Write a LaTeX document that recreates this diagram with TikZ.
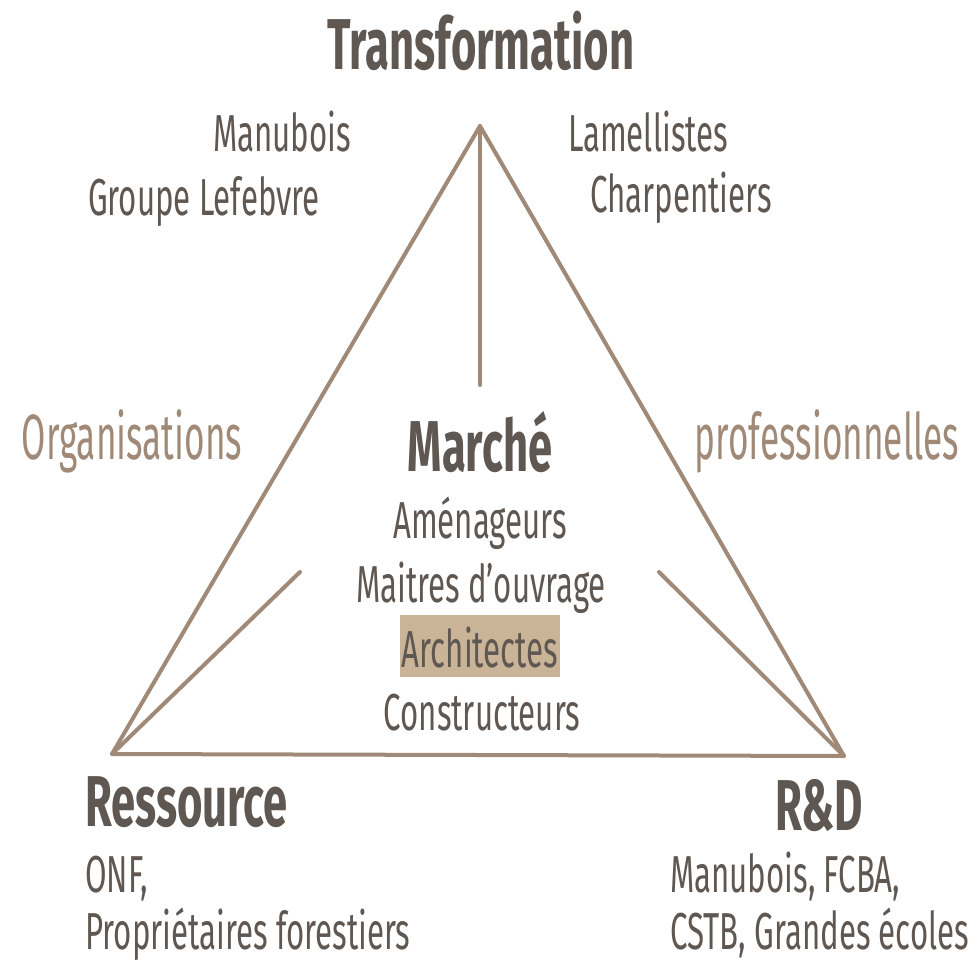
\documentclass[tikz,border=0pt]{standalone}
\usepackage{fontspec}
\setmainfont{Fira Sans}[FakeStretch=0.6, BoldFeatures={FakeStretch=0.605}]
\newfontfamily\sidefont{Fira Sans}[FakeStretch=0.55]
\usepackage{tikz}
\usetikzlibrary{positioning}
\definecolor{inkgray}{HTML}{5F5751}
\definecolor{woodline}{HTML}{A08A77}
\definecolor{woodfill}{HTML}{C9B497}
\tikzset{
  pole/.style={anchor=base, inner sep=0pt, text=inkgray, font=\fontsize{72}{80}\selectfont\bfseries},
  actor/.style={anchor=base, inner sep=0pt, text=inkgray, font=\fontsize{52}{60}\selectfont},
  side/.style={anchor=base, inner sep=0pt, text=woodline, font=\sidefont\fontsize{64}{70}\selectfont},
  edge/.style={draw=woodline, line width=4pt, line cap=round, line join=round}
}
\begin{document}
\begin{tikzpicture}[x=1pt, y=-1pt]
\useasboundingbox (0,0) rectangle (978,963);

% triangle corners and inner ends
\coordinate (top) at (480,126);
\coordinate (left) at (112,754);
\coordinate (right) at (844,756);
\coordinate (topend) at (480,385);
\coordinate (leftend) at (300,572);
\coordinate (rightend) at (659,572);

\draw[edge] (top) -- (left) -- (right) -- cycle;
\draw[edge] (top) -- (topend);
\draw[edge] (left) -- (leftend);
\draw[edge] (right) -- (rightend);

% poles
\node[pole] (transfo) at (481,70) {Transformation};
\node[pole] (marche) at (480,471) {Marché};
\node[pole, anchor=base west] (ressource) at (85,826) {Ressource};
\node[pole] (rd) at (819,830) {R\&D};

% transformation
\node[actor] (manubois) at (282,152) {Manubois};
\node[actor] (lefebvre) at (204,215) {Groupe Lefebvre};
\node[actor] (lamell) at (648,152) {Lamellistes};
\node[actor] (charp) at (681,213) {Charpentiers};

% sides
\node[side] (orga) at (132,459) {Organisations};
\node[side] (pro) at (827,459) {professionnelles};

% market
\node[actor] (amen) at (480,538) {Aménageurs};
\node[actor] (moa) at (481,602) {Maitres d’ouvrage};
\node[actor, fill=woodfill, inner xsep=2pt, inner ysep=2pt, text height=50pt, text depth=8pt] (archi) at (480,667) {Architectes};
\node[actor] (constr) at (482,730) {Constructeurs};

% ressource and R&D
\node[actor, anchor=base west] (onf) at (85,892) {ONF,};
\node[actor, anchor=base west] (proprio) at (85,949) {Propriétaires forestiers};
\node[actor, anchor=base west] (fcba) at (670,892) {Manubois, FCBA,};
\node[actor, anchor=base west] (cstb) at (670,949) {CSTB, Grandes écoles};
\end{tikzpicture}
\end{document}
